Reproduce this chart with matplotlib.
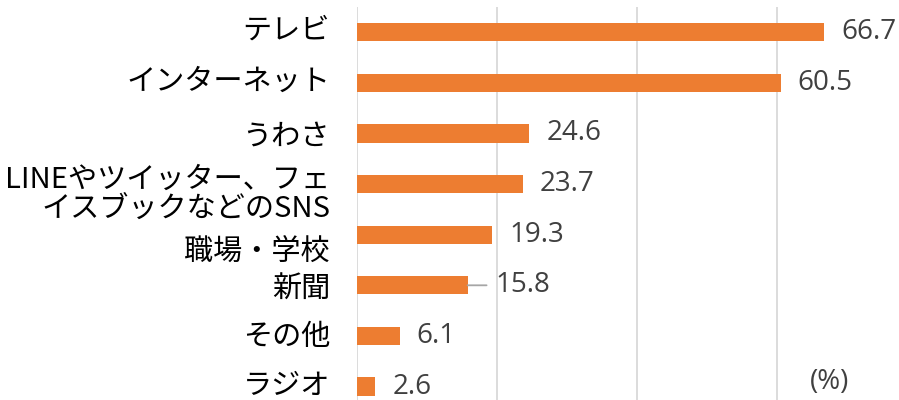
import numpy as np
import matplotlib
matplotlib.use("Agg")
from matplotlib import pyplot as plt

plt.rcParams['font.family'] = ['Noto Sans CJK JP', 'DejaVu Sans']

categories = ["テレビ", "インターネット", "うわさ",
              "LINEやツイッター、フェ\nイスブックなどのSNS",
              "職場・学校", "新聞", "その他", "ラジオ"]
values = [66.7, 60.5, 24.6, 23.7, 19.3, 15.8, 6.1, 2.6]

# category label nudges in pixels
label_dy = [-2, -1, 3, 10, 18, 4, 1, -1]

bar_color = "#ED7D31"
grid_color = "#D9D9D9"
text_color = "#404040"
num_font = ["Open Sans", "DejaVu Sans"]

fig = plt.figure(figsize=(8.99, 4.0), dpi=100)
ax = fig.add_axes([357 / 899, 1 - 411.8 / 400, 560 / 899, 404.8 / 400])

y = np.arange(len(categories))
ax.barh(y, values, height=0.36, color=bar_color, zorder=3)
ax.set_ylim(len(categories) - 0.5, -0.5)
ax.set_xlim(0, 80)
ax.set_xticks([0, 20, 40, 60, 80])
ax.xaxis.grid(True, color=grid_color, linewidth=1.3, zorder=0)
ax.tick_params(left=False, bottom=False, labelbottom=False, labelleft=False)
for s in ax.spines.values():
    s.set_visible(False)

px = 0.72  # points per pixel at 100 dpi
for i, (lab, dy) in enumerate(zip(categories, label_dy)):
    ax.annotate(lab, xy=(0, i), xycoords=ax.get_yaxis_transform(),
                xytext=(-27 * px, -dy * px), textcoords="offset points",
                ha="right", va="center", fontsize=21, color="black",
                linespacing=0.95, annotation_clip=False)

for i, v in enumerate(values):
    if v == 15.8:
        ax.annotate(f"{v:.1f}", xy=(v, i), xytext=(28 * px, 0),
                    textcoords="offset points", ha="left", va="center",
                    fontsize=20, color=text_color, family=num_font,
                    arrowprops=dict(arrowstyle="-", color="#A6A6A6", lw=1.3,
                                    shrinkA=4.5, shrinkB=0, relpos=(0, 0.5)))
    else:
        ax.annotate(f"{v:.1f}", xy=(v, i), xytext=(17 * px, 0),
                    textcoords="offset points", ha="left", va="center",
                    fontsize=20, color=text_color, family=num_font)

fig.text(830 / 899, 1 - 382 / 400, "(%)", ha="center", va="center",
         fontsize=20, color=text_color, family=num_font)

fig.savefig("out.png", dpi=100)
